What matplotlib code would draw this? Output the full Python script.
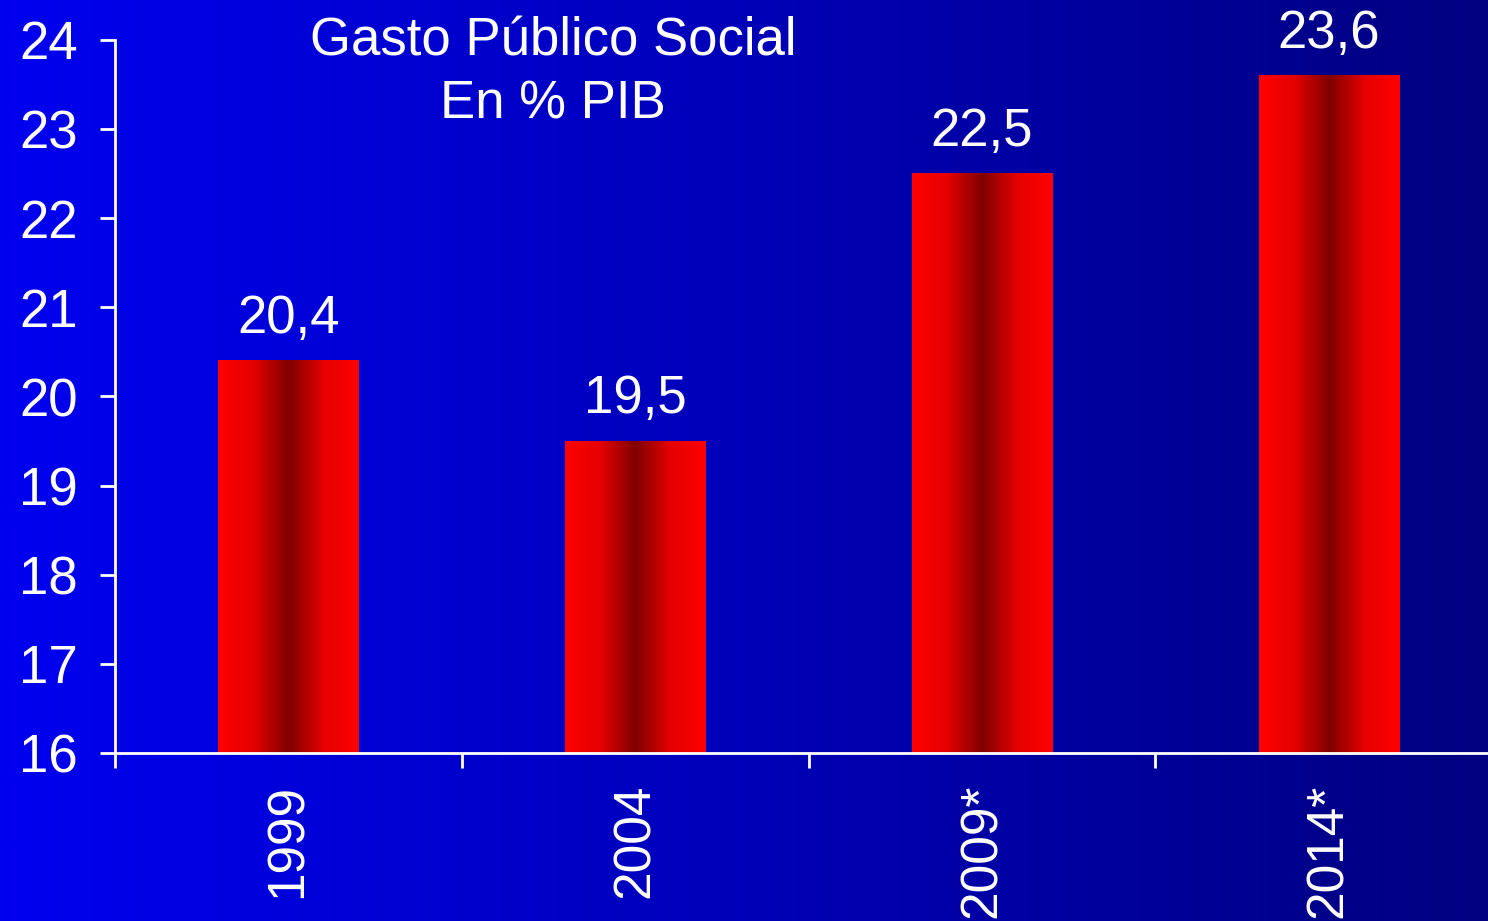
import numpy as np
import matplotlib
matplotlib.use("Agg")
import matplotlib.pyplot as plt
from matplotlib.colors import LinearSegmentedColormap

plt.rcParams['font.family'] = ['Liberation Sans', 'DejaVu Sans']

categories = ["1999", "2004", "2009*", "2014*"]
values = [20.4, 19.5, 22.5, 23.6]
value_labels = ["20,4", "19,5", "22,5", "23,6"]
y_ticks = [16, 17, 18, 19, 20, 21, 22, 23, 24]
title_lines = ["Gasto Público Social", "En % PIB"]

W, H, DPI = 1488, 921, 100
fig = plt.figure(figsize=(W / DPI, H / DPI), dpi=DPI)

# Horizontal blue-to-navy background
bg = fig.add_axes([0, 0, 1, 1], zorder=0)
bg_cmap = LinearSegmentedColormap.from_list("bg", [(0, 0, 240 / 255), (0, 0, 128 / 255)])
bg.imshow(np.linspace(0, 1, 512)[None, :], aspect="auto", cmap=bg_cmap,
          extent=[0, 1, 0, 1])
bg.set_axis_off()

# Plot area (right end runs past the figure edge)
left_px, right_px, bottom_px, top_px = 115, 1502, 753, 40
ax = fig.add_axes([left_px / W, 1 - bottom_px / H,
                   (right_px - left_px) / W, (bottom_px - top_px) / H], zorder=1)
ax.patch.set_alpha(0)

n = len(categories)

bar_cmap = LinearSegmentedColormap.from_list(
    "bar", [(1, 0, 0), (0.9, 0, 0), (0.5, 0, 0), (0.9, 0, 0), (1, 0, 0)])
grad = np.linspace(0, 1, 256)[None, :]
bar_w = 0.404
for i, (v, lab) in enumerate(zip(values, value_labels)):
    cx = i + 0.5
    ax.imshow(grad, aspect="auto", cmap=bar_cmap,
              extent=[cx - bar_w / 2, cx + bar_w / 2, 16, v], zorder=2)
    ax.annotate(lab, (cx, v), xytext=(0, 20), textcoords="offset points",
                ha="center", va="baseline", color="white", fontsize=38, zorder=3)
ax.set_xlim(0, n)
ax.set_ylim(16, 24)

for s in ["top", "right"]:
    ax.spines[s].set_visible(False)
for s in ["left", "bottom"]:
    ax.spines[s].set_color("white")
    ax.spines[s].set_linewidth(2)

ax.set_yticks(y_ticks)
ax.set_yticklabels([str(t) for t in y_ticks])
ax.tick_params(axis="y", colors="white", labelsize=38, length=11, width=2, pad=16)

# Ticks at category boundaries, labels at centres
ax.set_xticks(np.arange(n + 1))
ax.set_xticklabels([])
ax.tick_params(axis="x", which="major", colors="white", length=11, width=2)
ax.set_xticks(np.arange(n) + 0.5, minor=True)
ax.set_xticklabels(categories, minor=True, rotation=90, va="top", ha="center")
ax.tick_params(axis="x", which="minor", length=0, colors="white", labelsize=37, pad=22)

fig.text(553 / W, 1 - 41 / H, title_lines[0], ha="center", va="center",
         color="white", fontsize=38, zorder=5)
fig.text(553 / W, 1 - 104 / H, title_lines[1], ha="center", va="center",
         color="white", fontsize=38, zorder=5)

fig.savefig("out.png", dpi=DPI)
